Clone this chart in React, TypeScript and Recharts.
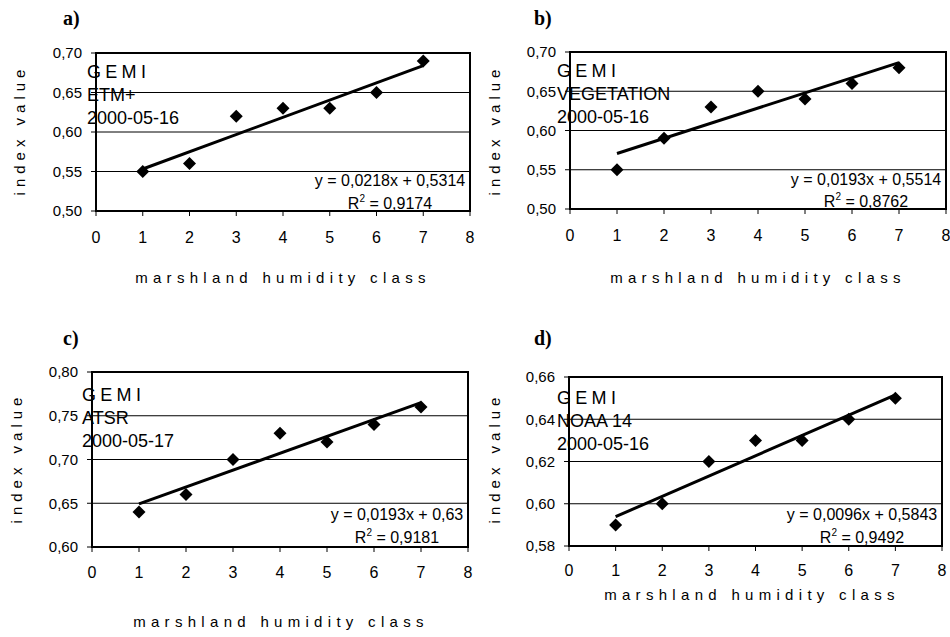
import React from 'react';
import { ScatterChart, Scatter, XAxis, YAxis, CartesianGrid, ReferenceLine, ReferenceArea } from 'recharts';

const classes = [1, 2, 3, 4, 5, 6, 7];
const xTicks = [0, 1, 2, 3, 4, 5, 6, 7, 8];

const gemiEtm = [0.55, 0.56, 0.62, 0.63, 0.63, 0.65, 0.69];
const gemiVegetation = [0.55, 0.59, 0.63, 0.65, 0.64, 0.66, 0.68];
const gemiAtsr = [0.64, 0.66, 0.70, 0.73, 0.72, 0.74, 0.76];
const gemiNoaa = [0.59, 0.60, 0.62, 0.63, 0.63, 0.64, 0.65];

const trendSlopes = [0.0218, 0.0193, 0.0193, 0.0096];
const trendIntercepts = [0.5314, 0.5514, 0.63, 0.5843];
const equationTexts = ['y = 0,0218x + 0,5314', 'y = 0,0193x + 0,5514', 'y = 0,0193x + 0,63', 'y = 0,0096x + 0,5843'];
const r2Values = ['0,9174', '0,8762', '0,9181', '0,9492'];

const yTicksA = [0.5, 0.55, 0.6, 0.65, 0.7];
const yTicksB = [0.5, 0.55, 0.6, 0.65, 0.7];
const yTicksC = [0.6, 0.65, 0.7, 0.75, 0.8];
const yTicksD = [0.58, 0.6, 0.62, 0.64, 0.66];

const panelLetters = ['a)', 'b)', 'c)', 'd)'];
const sensorNames = ['ETM+', 'VEGETATION', 'ATSR', 'NOAA 14'];
const dates = ['2000-05-16', '2000-05-16', '2000-05-17', '2000-05-16'];
const indexName = 'GEMI';
const xTitle = 'marshland humidity class';
const yTitle = 'index value';

const FONT = '"Liberation Sans", Arial, sans-serif';

type PanelCfg = {
  left: number; top: number; w: number; h: number;
  margin: { top: number; right: number; bottom: number; left: number };
  values: number[]; yTicks: number[]; xTickMargin: number; idx: number;
};

const panels: PanelCfg[] = [
  { left: 0, top: 0, w: 475, h: 300, margin: { top: 53, right: 5, bottom: 49, left: 36 }, values: gemiEtm, yTicks: yTicksA, xTickMargin: 16, idx: 0 },
  { left: 475, top: 0, w: 475, h: 300, margin: { top: 52, right: 4, bottom: 51, left: 35 }, values: gemiVegetation, yTicks: yTicksB, xTickMargin: 16, idx: 1 },
  { left: 0, top: 320, w: 475, h: 317, margin: { top: 52, right: 7, bottom: 50, left: 32 }, values: gemiAtsr, yTicks: yTicksC, xTickMargin: 15, idx: 2 },
  { left: 475, top: 320, w: 475, h: 317, margin: { top: 57, right: 8, bottom: 51, left: 34 }, values: gemiNoaa, yTicks: yTicksD, xTickMargin: 14, idx: 3 },
];

// text placement (layout only)
const annoPos = [
  { x: 87, y: 78, eqX: 390, eqY: 186, r2Y: 209, letterX: 63, letterY: 25, xtX: 283, xtY: 283, ytX: 25, ytY: 130 },
  { x: 557, y: 77, eqX: 866, eqY: 185, r2Y: 207, letterX: 534, letterY: 25, xtX: 758, xtY: 283, ytX: 500, ytY: 130 },
  { x: 82, y: 401, eqX: 397, eqY: 520, r2Y: 543, letterX: 63, letterY: 345, xtX: 281, xtY: 627, ytX: 22, ytY: 458 },
  { x: 557, y: 404, eqX: 862, eqY: 520, r2Y: 543, letterX: 534, letterY: 345, xtX: 752, xtY: 600, ytX: 500, ytY: 458 },
];

const Diamond = (p: any) => {
  const { cx, cy } = p;
  if (cx == null || cy == null) return null;
  const s = 6.5;
  return <path d={`M${cx},${cy - s}L${cx + s},${cy}L${cx},${cy + s}L${cx - s},${cy}Z`} fill="#000" />;
};

const fmt = (v: number) => v.toFixed(2).replace('.', ',');

function Panel({ cfg }: { cfg: PanelCfg }) {
  const data = classes.map((c, i) => ({ x: c, y: cfg.values[i] }));
  const a = trendSlopes[cfg.idx];
  const b = trendIntercepts[cfg.idx];
  const x0 = classes[0];
  const x1 = classes[classes.length - 1];
  const yMin = cfg.yTicks[0];
  const yMax = cfg.yTicks[cfg.yTicks.length - 1];
  return (
    <div style={{ position: 'absolute', left: cfg.left, top: cfg.top }}>
      <ScatterChart width={cfg.w} height={cfg.h} margin={cfg.margin}>
        <CartesianGrid vertical={false} stroke="#000" strokeWidth={1} />
        <XAxis
          type="number"
          dataKey="x"
          domain={[0, 8]}
          ticks={xTicks}
          allowDataOverflow
          height={40}
          tickSize={5}
          tickMargin={cfg.xTickMargin}
          axisLine={{ stroke: '#000' }}
          tickLine={{ stroke: '#000' }}
          tick={{ fill: '#000', fontSize: 16, fontFamily: FONT }}
        />
        <YAxis
          type="number"
          dataKey="y"
          domain={[yMin, yMax]}
          ticks={cfg.yTicks}
          allowDataOverflow
          width={60}
          tickSize={5}
          tickMargin={9}
          tickFormatter={fmt}
          axisLine={{ stroke: '#000' }}
          tickLine={{ stroke: '#000' }}
          tick={{ fill: '#000', fontSize: 15, fontFamily: FONT }}
        />
        <ReferenceArea x1={0} x2={8} y1={yMin} y2={yMax} fill="none" fillOpacity={0} stroke="#000" strokeWidth={2} />
        <Scatter data={data} shape={Diamond} isAnimationActive={false} />
        <ReferenceLine
          segment={[{ x: x0, y: a * x0 + b }, { x: x1, y: a * x1 + b }]}
          stroke="#000"
          strokeWidth={3}
        />
      </ScatterChart>
    </div>
  );
}

export default function App() {
  return (
    <div style={{ position: 'absolute', left: 0, top: 0, width: 950, height: 637, background: '#fff' }}>
      {panels.map((p) => (
        <Panel key={p.idx} cfg={p} />
      ))}
      <svg width={950} height={637} style={{ position: 'absolute', left: 0, top: 0, pointerEvents: 'none' }}>
        {annoPos.map((t, i) => (
          <g key={i} fontFamily={FONT} fill="#000">
            <text x={t.letterX} y={t.letterY} fontFamily='"Liberation Serif", "Times New Roman", serif' fontWeight="bold" fontSize={20}>
              {panelLetters[i]}
            </text>
            <text x={t.x} y={t.y} fontSize={18} letterSpacing={4.3}>{indexName}</text>
            <text x={t.x} y={t.y + 23} fontSize={18}>{sensorNames[i]}</text>
            <text x={t.x} y={t.y + 46} fontSize={18}>{dates[i]}</text>
            <text x={t.eqX} y={t.eqY} fontSize={16} textAnchor="middle">{equationTexts[i]}</text>
            <text x={t.eqX} y={t.r2Y} fontSize={16} textAnchor="middle">
              R<tspan fontSize={10} dy={-7}>2</tspan><tspan dy={7}>{' = ' + r2Values[i]}</tspan>
            </text>
            <text x={t.xtX} y={t.xtY} fontSize={15} letterSpacing={5.3} textAnchor="middle">{xTitle}</text>
            <text
              x={t.ytX}
              y={t.ytY}
              fontSize={15}
              letterSpacing={5}
              textAnchor="middle"
              transform={`rotate(-90 ${t.ytX} ${t.ytY})`}
            >
              {yTitle}
            </text>
          </g>
        ))}
      </svg>
    </div>
  );
}
